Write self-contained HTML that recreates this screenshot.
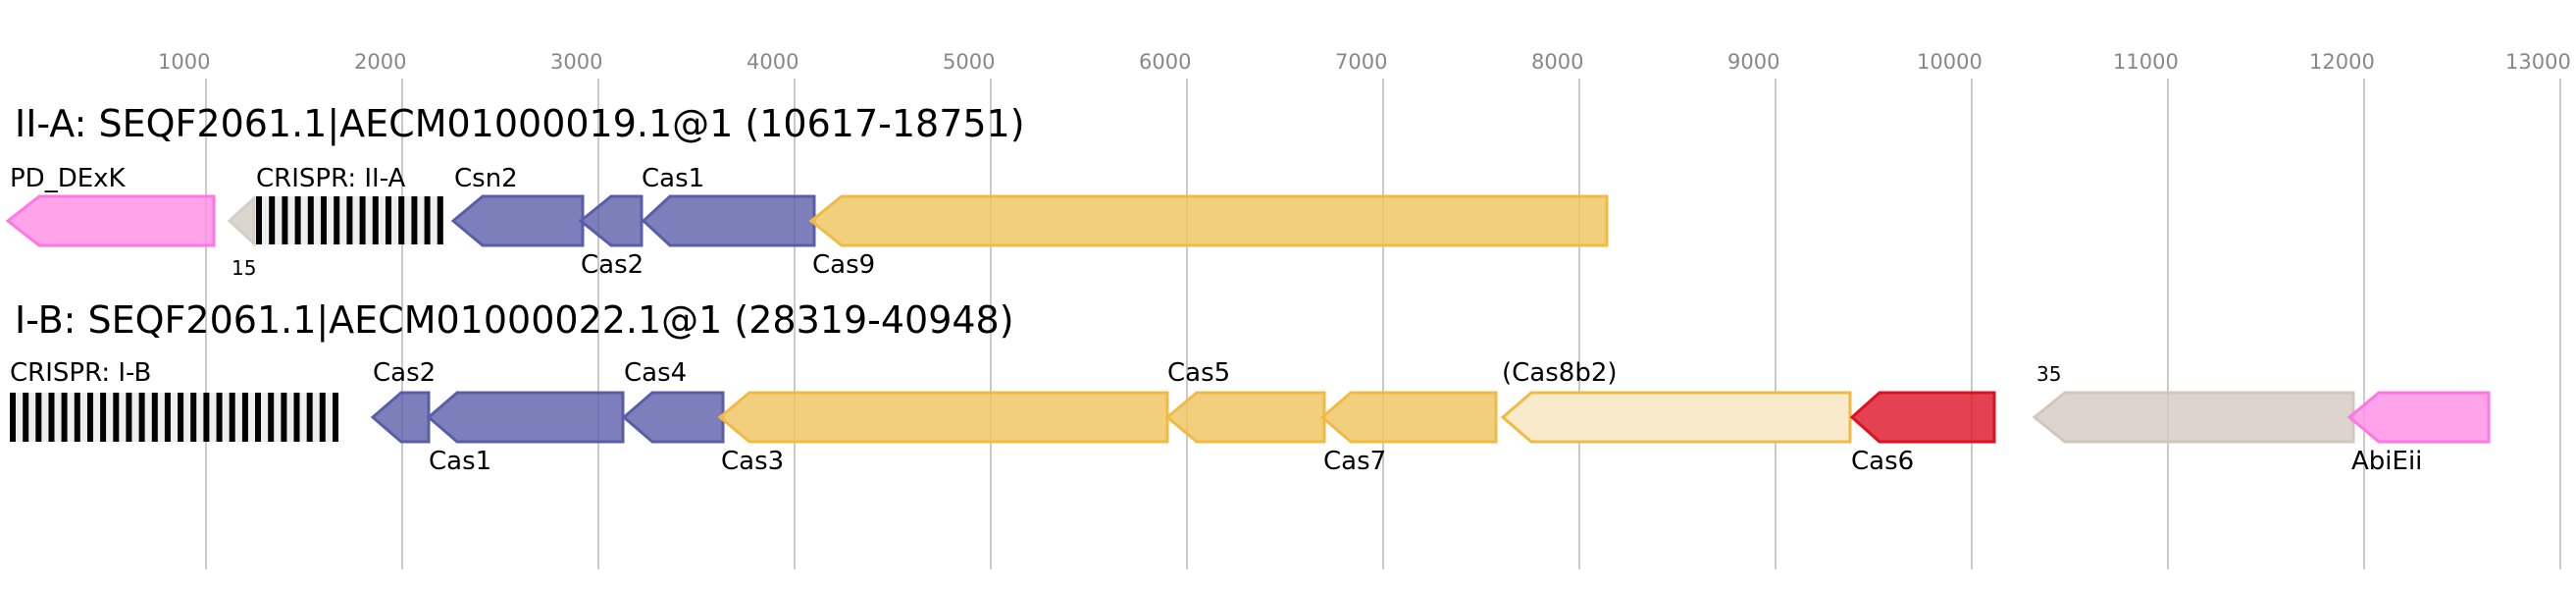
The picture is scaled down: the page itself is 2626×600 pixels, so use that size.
<!DOCTYPE html>
<html><head><meta charset="utf-8"><style>html,body{margin:0;padding:0;background:#fff;}svg{display:block;}</style></head>
<body>
<svg width="2626" height="600" viewBox="0 0 2626 600" xmlns="http://www.w3.org/2000/svg" font-family="DejaVu Sans, Liberation Sans, sans-serif">
<g stroke="#bdbdbd" stroke-width="1.6">
<line x1="210" y1="80" x2="210" y2="580"/><line x1="410" y1="80" x2="410" y2="580"/><line x1="610" y1="80" x2="610" y2="580"/><line x1="810" y1="80" x2="810" y2="580"/><line x1="1010" y1="80" x2="1010" y2="580"/><line x1="1210" y1="80" x2="1210" y2="580"/><line x1="1410" y1="80" x2="1410" y2="580"/><line x1="1610" y1="80" x2="1610" y2="580"/><line x1="1810" y1="80" x2="1810" y2="580"/><line x1="2010" y1="80" x2="2010" y2="580"/><line x1="2210" y1="80" x2="2210" y2="580"/><line x1="2410" y1="80" x2="2410" y2="580"/><line x1="2610" y1="80" x2="2610" y2="580"/>
</g>
<g fill="#888" font-size="21">
<text x="161" y="70">1000</text><text x="361" y="70">2000</text><text x="561" y="70">3000</text><text x="761" y="70">4000</text><text x="961" y="70">5000</text><text x="1161" y="70">6000</text><text x="1361" y="70">7000</text><text x="1561" y="70">8000</text><text x="1761" y="70">9000</text><text x="1954" y="70">10000</text><text x="2154" y="70">11000</text><text x="2354" y="70">12000</text><text x="2554" y="70">13000</text>
</g>
<text x="15" y="139" font-size="38" fill="#000">II-A: SEQF2061.1|AECM01000019.1@1 (10617-18751)</text>
<text x="15" y="339" font-size="38" fill="#000">I-B: SEQF2061.1|AECM01000022.1@1 (28319-40948)</text>

<g stroke-width="3" fill-opacity="0.82">
<polygon points="8,225 40,200 218,200 218,250 40,250" fill="#ff8fe6" stroke="#ff77e0"/>
<polygon points="234,225 259,202 259,248" fill="#d6cdc5" stroke="#d6cdc5"/>
<polygon points="462,225 492,200 594,200 594,250 492,250" fill="#5f63aa" stroke="#5a5ea8"/>
<polygon points="592,225 623,200 654,200 654,250 623,250" fill="#5f63aa" stroke="#5a5ea8"/>
<polygon points="656,225 683,200 830,200 830,250 683,250" fill="#5f63aa" stroke="#5a5ea8"/>
<polygon points="827,225 858,200 1638,200 1638,250 858,250" fill="#eec55f" stroke="#efbb44"/>
<polygon points="380,425 409,400 437,400 437,450 409,450" fill="#5f63aa" stroke="#5a5ea8"/>
<polygon points="437,425 466,400 635,400 635,450 466,450" fill="#5f63aa" stroke="#5a5ea8"/>
<polygon points="636,425 665,400 737,400 737,450 665,450" fill="#5f63aa" stroke="#5a5ea8"/>
<polygon points="734,425 764,400 1190,400 1190,450 764,450" fill="#eec55f" stroke="#efbb44"/>
<polygon points="1190,425 1220,400 1350,400 1350,450 1220,450" fill="#eec55f" stroke="#efbb44"/>
<polygon points="1348,425 1377,400 1525,400 1525,450 1377,450" fill="#eec55f" stroke="#efbb44"/>
<polygon points="1532,425 1561,400 1886,400 1886,450 1561,450" fill="#f9eacb" fill-opacity="1" stroke="#efbb44"/>
<polygon points="1888,425 1916,400 2033,400 2033,450 1916,450" fill="#dd1a2a" stroke="#dd1122"/>
<polygon points="2074,425 2105,400 2399,400 2399,450 2105,450" fill="#d4cac2" stroke="#d0c6bd"/>
<polygon points="2395,425 2425,400 2537,400 2537,450 2425,450" fill="#ff8fe6" stroke="#ff77e0"/>
</g>
<rect x="261" y="200" width="191" height="49" fill="#eee"/>
<g fill="#000">
<rect x="261" y="200" width="6" height="49"/><rect x="274.2" y="200" width="6" height="49"/><rect x="287.4" y="200" width="6" height="49"/><rect x="300.6" y="200" width="6" height="49"/><rect x="313.8" y="200" width="6" height="49"/><rect x="327" y="200" width="6" height="49"/><rect x="340.2" y="200" width="6" height="49"/><rect x="353.4" y="200" width="6" height="49"/><rect x="366.6" y="200" width="6" height="49"/><rect x="379.8" y="200" width="6" height="49"/><rect x="393" y="200" width="6" height="49"/><rect x="406.2" y="200" width="6" height="49"/><rect x="419.4" y="200" width="6" height="49"/><rect x="432.6" y="200" width="6" height="49"/><rect x="445.8" y="200" width="6" height="49"/>
</g>
<rect x="10" y="400" width="335" height="50" fill="#eee"/>
<g fill="#000">
<rect x="10" y="400" width="6" height="50"/><rect x="23.2" y="400" width="6" height="50"/><rect x="36.3" y="400" width="6" height="50"/><rect x="49.5" y="400" width="6" height="50"/><rect x="62.6" y="400" width="6" height="50"/><rect x="75.8" y="400" width="6" height="50"/><rect x="89" y="400" width="6" height="50"/><rect x="102.1" y="400" width="6" height="50"/><rect x="115.3" y="400" width="6" height="50"/><rect x="128.4" y="400" width="6" height="50"/><rect x="141.6" y="400" width="6" height="50"/><rect x="154.8" y="400" width="6" height="50"/><rect x="167.9" y="400" width="6" height="50"/><rect x="181.1" y="400" width="6" height="50"/><rect x="194.2" y="400" width="6" height="50"/><rect x="207.4" y="400" width="6" height="50"/><rect x="220.6" y="400" width="6" height="50"/><rect x="233.7" y="400" width="6" height="50"/><rect x="246.9" y="400" width="6" height="50"/><rect x="260" y="400" width="6" height="50"/><rect x="273.2" y="400" width="6" height="50"/><rect x="286.4" y="400" width="6" height="50"/><rect x="299.5" y="400" width="6" height="50"/><rect x="312.7" y="400" width="6" height="50"/><rect x="325.8" y="400" width="6" height="50"/><rect x="339" y="400" width="6" height="50"/>
</g>
<g fill="#000" font-size="26">
<text x="10" y="190">PD_DExK</text><text x="261" y="190">CRISPR: II-A</text><text x="463" y="190">Csn2</text><text x="654" y="190">Cas1</text>
<text x="592" y="278">Cas2</text><text x="828" y="278">Cas9</text>
<text x="10" y="388">CRISPR: I-B</text><text x="380" y="388">Cas2</text><text x="636" y="388">Cas4</text><text x="1190" y="388">Cas5</text><text x="1531" y="388">(Cas8b2)</text>
<text x="437" y="478">Cas1</text><text x="735" y="478">Cas3</text><text x="1349" y="478">Cas7</text><text x="1887" y="478">Cas6</text><text x="2397" y="478">AbiEii</text>
</g>
<text x="236" y="280" font-size="20" fill="#000">15</text>
<text x="2076" y="388" font-size="20" fill="#000">35</text>
</svg>
</body></html>
